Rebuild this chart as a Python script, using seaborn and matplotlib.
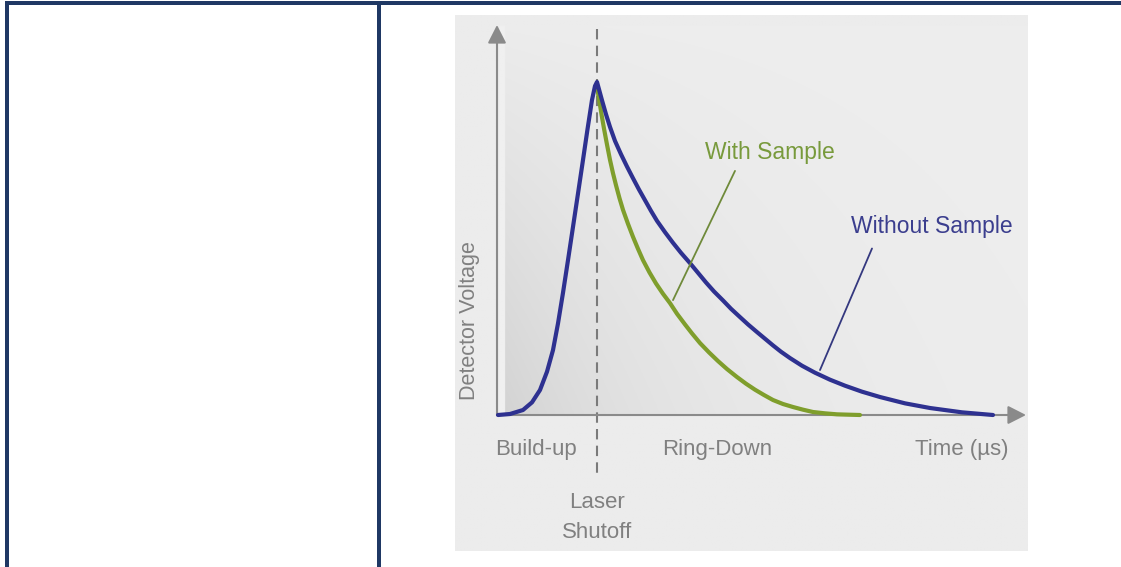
import numpy as np
import pandas as pd
import matplotlib
matplotlib.use("Agg")
import matplotlib.pyplot as plt
from matplotlib.patches import Rectangle
import seaborn as sns

# ---- data (time in arbitrary units, voltage normalised) ----
blue_t = [0.02, 0.26, 0.52, 0.70, 0.86, 1.00, 1.12, 1.22, 1.32, 1.42, 1.52, 1.62, 1.72, 1.81, 1.90, 1.96, 2.00,
          2.04, 2.10, 2.18, 2.26, 2.36, 2.48, 2.60, 2.72, 2.84, 2.96, 3.08, 3.20, 3.36, 3.52, 3.68, 3.86,
          4.02, 4.18, 4.34, 4.52, 4.68, 4.86, 5.02, 5.20, 5.36, 5.52, 5.68, 5.86, 6.10, 6.36, 6.66,
          6.96, 7.30, 7.66, 8.16, 8.66, 9.30, 9.92]
blue_v = [0.000, 0.003, 0.015, 0.038, 0.075, 0.130, 0.195, 0.275, 0.367, 0.465, 0.565, 0.665, 0.766, 0.858, 0.946, 0.988, 1.000,
          0.978, 0.945, 0.903, 0.865, 0.823, 0.783, 0.746, 0.711, 0.677, 0.645, 0.613, 0.583, 0.549, 0.517, 0.487, 0.456,
          0.427, 0.398, 0.371, 0.344, 0.319, 0.294, 0.272, 0.249, 0.229, 0.209, 0.190, 0.171, 0.148, 0.127, 0.106,
          0.088, 0.070, 0.054, 0.035, 0.021, 0.008, 0.000]
green_t = [2.00, 2.04, 2.09, 2.14, 2.20, 2.26, 2.32, 2.38, 2.45, 2.52, 2.62, 2.72, 2.82, 2.92, 3.05, 3.18, 3.32,
           3.46, 3.60, 3.76, 3.90, 4.06, 4.24, 4.42, 4.60, 4.80, 4.98, 5.16, 5.34, 5.52, 5.72, 5.92, 6.12,
           6.32, 6.56, 6.80, 7.02, 7.26]
green_v = [0.985, 0.950, 0.903, 0.860, 0.812, 0.766, 0.726, 0.690, 0.651, 0.616, 0.574, 0.535, 0.499, 0.465, 0.428, 0.395, 0.364,
           0.336, 0.304, 0.272, 0.245, 0.216, 0.188, 0.162, 0.138, 0.114, 0.094, 0.076, 0.060, 0.045, 0.033, 0.024, 0.016,
           0.009, 0.005, 0.002, 0.001, 0.000]

region_labels = ["Build-up", "Ring-Down", "Time (µs)"]
region_t = [0.78, 4.40, 9.30]
shutoff_t = 2.0
series_names = ["With Sample", "Without Sample"]

df = pd.concat([
    pd.DataFrame({"t": green_t, "v": green_v, "series": "With Sample"}),
    pd.DataFrame({"t": blue_t, "v": blue_v, "series": "Without Sample"}),
], ignore_index=True)

BLUE = "#2e3190"
GREEN = "#7f9e2c"
GRAY = "#808080"
NAVY = "#1f3864"

sns.set_theme(style="white")
plt.rcParams["font.family"] = ["Liberation Sans", "DejaVu Sans"]

W, H = 1121, 567
fig = plt.figure(figsize=(W / 100, H / 100), dpi=100)
fig.patch.set_facecolor("white")

# table borders
def fig_rect(x0, y0, x1, y1, color):
    fig.patches.append(Rectangle((x0 / W, 1 - y1 / H), (x1 - x0) / W, (y1 - y0) / H,
                                 transform=fig.transFigure, color=color, lw=0, zorder=10))
fig_rect(5, 1, W, 5, NAVY)
fig_rect(5, 1, 9, H, NAVY)
fig_rect(377, 1, 381, H, NAVY)

# panel axes (pixel box 455..1028 x 15..551)
px0, px1, py0, py1 = 455, 1028, 15, 551
ax = fig.add_axes([px0 / W, 1 - py1 / H, (px1 - px0) / W, (py1 - py0) / H])
ox, oy, sx, sy = 497, 415, 50.0, 333.0
xlim = ((px0 - ox) / sx, (px1 - ox) / sx)
ylim = ((oy - py1) / sy, (oy - py0) / sy)
ax.set_xlim(*xlim)
ax.set_ylim(*ylim)
ax.set_axis_off()

# background gradient
nx, ny = 400, 300
gx = np.linspace(xlim[0], xlim[1], nx)
gy = np.linspace(ylim[0], ylim[1], ny)
GX, GY = np.meshgrid(gx, gy)
base = np.full_like(GX, 236.0)
inside = (GX > 0.05) & (GY > 0) & (GY < 1.17)
dark = 28 * np.exp(-GX / 3.5) * np.clip(1 - GY / 1.25, 0, 1)
val = np.where(inside, 238 - dark, base)
val = np.where((GX > 0.04) & (GX < 0.14) & (GY > 0) & (GY < 1.17), 240, val)
img = np.dstack([val, val, val]) / 255.0
ax.imshow(img, extent=(xlim[0], xlim[1], ylim[0], ylim[1]), origin="lower", aspect="auto", zorder=0)

# shutoff dashed line
ax.plot([shutoff_t, shutoff_t], [1.16, -0.19], color="#7a7a7a", lw=1.5, ls=(0, (5, 3)), zorder=2)

# axes arrows
arrow_kw = dict(arrowstyle="-|>,head_length=0.55,head_width=0.28", color="#8a8a8a", lw=1.5,
                shrinkA=0, shrinkB=0, mutation_scale=20)
ax.annotate("", xy=(0, (oy - 25) / sy), xytext=(0, 0), arrowprops=arrow_kw, zorder=3)
ax.annotate("", xy=((1026 - ox) / sx, 0), xytext=(0, 0), arrowprops=arrow_kw, zorder=3)

# curves
sns.lineplot(data=df, x="t", y="v", hue="series", hue_order=series_names,
             palette={"With Sample": GREEN, "Without Sample": BLUE},
             sort=False, estimator=None, lw=3.0, legend=False, ax=ax, zorder=4)
for ln in ax.lines[-2:]:
    ln.set_solid_capstyle("round")
    ln.set_solid_joinstyle("round")

# leader lines
ax.plot([4.76, 3.52], [0.733, 0.345], color="#6f8a3a", lw=1.3, zorder=5)
ax.plot([7.50, 6.46], [0.500, 0.135], color="#34387f", lw=1.3, zorder=5)

# texts
fs = 16
for lab, t in zip(region_labels, region_t):
    ax.text(t, -0.105, lab, ha="center", va="center", fontsize=fs, color=GRAY, zorder=6)
ax.text(shutoff_t, -0.264, "Laser", ha="center", va="center", fontsize=fs, color=GRAY, zorder=6)
ax.text(shutoff_t, -0.354, "Shutoff", ha="center", va="center", fontsize=fs, color=GRAY, zorder=6)
ax.text(-0.54, 0.285, "Detector Voltage", ha="center", va="center", rotation=90, fontsize=fs - 0.5,
        color=GRAY, zorder=6)
ax.text(5.46, 0.787, "With Sample", ha="center", va="center", fontsize=fs + 0.5, color="#789a3c", zorder=6)
ax.text(8.70, 0.565, "Without Sample", ha="center", va="center", fontsize=fs + 0.5, color="#3b3e8e", zorder=6)

fig.savefig("out.png", dpi=100, facecolor="white")
